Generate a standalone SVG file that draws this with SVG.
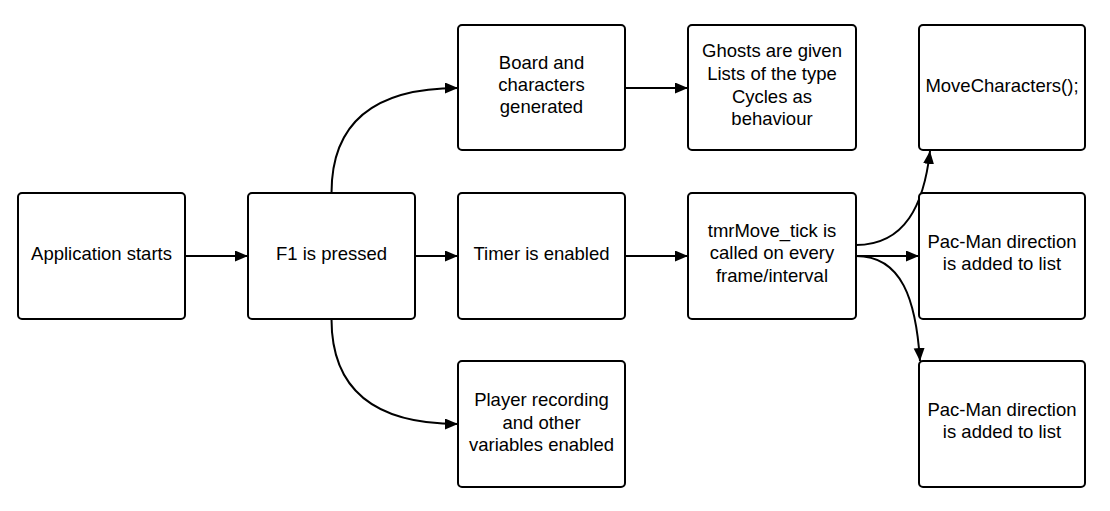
<svg xmlns="http://www.w3.org/2000/svg" width="1110" height="511" viewBox="0 0 1110 511">
<style>
.box{fill:#fff;stroke:#000;stroke-width:2}
.lbl{font-family:"Liberation Sans",Arial,sans-serif;font-size:18.5px;fill:#000;text-anchor:middle}
.edge{fill:none;stroke:#000;stroke-width:2}
</style>
<defs>
<marker id="arr" markerUnits="userSpaceOnUse" markerWidth="14" markerHeight="12" refX="13" refY="5.5" orient="auto">
<path d="M0,0 L13,5.5 L0,11 z" fill="#000"/>
</marker>
</defs>
<rect width="1110" height="511" fill="#fff"/>
<g id="connectors">
<path class="edge" d="M185,256 H248" marker-end="url(#arr)"/>
<path class="edge" d="M415,256 H458" marker-end="url(#arr)"/>
<path class="edge" d="M625,256 H688" marker-end="url(#arr)"/>
<path class="edge" d="M856,256 H919" marker-end="url(#arr)"/>
<path class="edge" d="M625,88 H688" marker-end="url(#arr)"/>
<path class="edge" d="M331.5,193 C331.5,125 372,88 458,88" marker-end="url(#arr)"/>
<path class="edge" d="M331.5,319 C331.5,387 372,424 458,424" marker-end="url(#arr)"/>
<path class="edge" d="M856,245 C905,245 924,205 930,151" marker-end="url(#arr)"/>
<path class="edge" d="M856,256 C902,256 916,300 920,361" marker-end="url(#arr)"/>
</g>
<g id="app">
<rect class="box" x="18" y="193" width="167" height="126" rx="4"/>
<text class="lbl" x="101.5" y="260">Application starts</text>
</g>
<g id="f1">
<rect class="box" x="248" y="193" width="167" height="126" rx="4"/>
<text class="lbl" x="331.5" y="260">F1 is pressed</text>
</g>
<g id="board">
<rect class="box" x="458" y="25" width="167" height="125" rx="4"/>
<text class="lbl" x="541.5" y="69">Board and</text>
<text class="lbl" x="541.5" y="91">characters</text>
<text class="lbl" x="541.5" y="113">generated</text>
</g>
<g id="timer">
<rect class="box" x="458" y="193" width="167" height="126" rx="4"/>
<text class="lbl" x="541.5" y="260">Timer is enabled</text>
</g>
<g id="player">
<rect class="box" x="458" y="361" width="167" height="126" rx="4"/>
<text class="lbl" x="541.5" y="406">Player recording</text>
<text class="lbl" x="541.5" y="429">and other</text>
<text class="lbl" x="541.5" y="451">variables enabled</text>
</g>
<g id="ghosts">
<rect class="box" x="688" y="25" width="168" height="125" rx="4"/>
<text class="lbl" x="772" y="57">Ghosts are given</text>
<text class="lbl" x="772" y="80">Lists of the type</text>
<text class="lbl" x="772" y="103">Cycles as</text>
<text class="lbl" x="772" y="125">behaviour</text>
</g>
<g id="tmrmove">
<rect class="box" x="688" y="193" width="168" height="126" rx="4"/>
<text class="lbl" x="772" y="237">tmrMove_tick is</text>
<text class="lbl" x="772" y="259">called on every</text>
<text class="lbl" x="772" y="282">frame/interval</text>
</g>
<g id="movechars">
<rect class="box" x="919" y="25" width="166" height="125" rx="4"/>
<text class="lbl" x="1002" y="92">MoveCharacters();</text>
</g>
<g id="pacman1">
<rect class="box" x="919" y="193" width="166" height="126" rx="4"/>
<text class="lbl" x="1002" y="248">Pac-Man direction</text>
<text class="lbl" x="1002" y="270">is added to list</text>
</g>
<g id="pacman2">
<rect class="box" x="919" y="361" width="166" height="126" rx="4"/>
<text class="lbl" x="1002" y="416">Pac-Man direction</text>
<text class="lbl" x="1002" y="438">is added to list</text>
</g>
</svg>
